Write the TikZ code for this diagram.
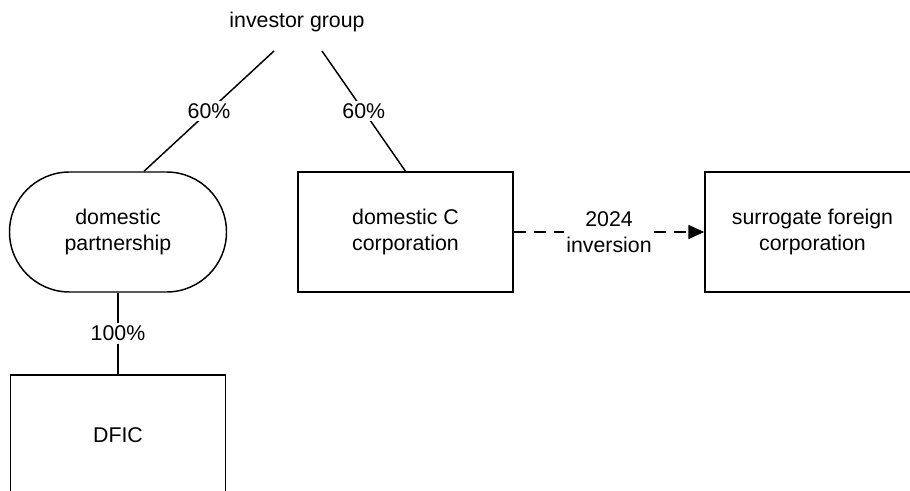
\documentclass[tikz,border=0pt]{standalone}
\usepackage{fontspec}
\setmainfont{Liberation Sans}
\usetikzlibrary{arrows.meta}

\begin{document}
\begin{tikzpicture}[x=0.75pt,y=-0.75pt,
  testo/.style={font=\fontsize{16}{19}\selectfont, align=center},
  ente/.style={testo, draw, line width=1.1pt, minimum width=161.25pt, minimum height=90pt},
  societa/.style={ente, rounded corners=45pt},
  linea/.style={line width=1.1pt},
  quota/.style={testo, fill=white, inner sep=2pt}]

% Area del disegno (i riquadri in basso e a destra escono dal bordo)
\clip (0,0) rectangle (910,491);

% Soci
\node[testo] (inv) at (297,22) {investor group};

% Entita
\node[societa, minimum width=162.75pt] (dp) at (118,232) {domestic\\partnership};
\node[ente] (dcc) at (405.5,232) {domestic C\\corporation};
\node[ente] (sfc) at (812.5,232) {surrogate foreign\\corporation};
\node[ente] (dfic) at (118,435) {DFIC};

% Partecipazioni
\draw[linea] ([shift={(-23,29)}]inv.center) -- node[quota] {60\%} ([shift={(26,0)}]dp.north);
\draw[linea] ([shift={(25,29)}]inv.center) -- node[quota] {60\%} (dcc.north);
\draw[linea] (dp) -- node[quota] {100\%} (dfic);

% Inversione
\draw[linea, dash pattern=on 9pt off 6pt, -{Triangle[length=12pt,width=10.5pt]}]
  (dcc.east) -- node[quota] {2024\\inversion} (sfc.west);

\end{tikzpicture}
\end{document}
